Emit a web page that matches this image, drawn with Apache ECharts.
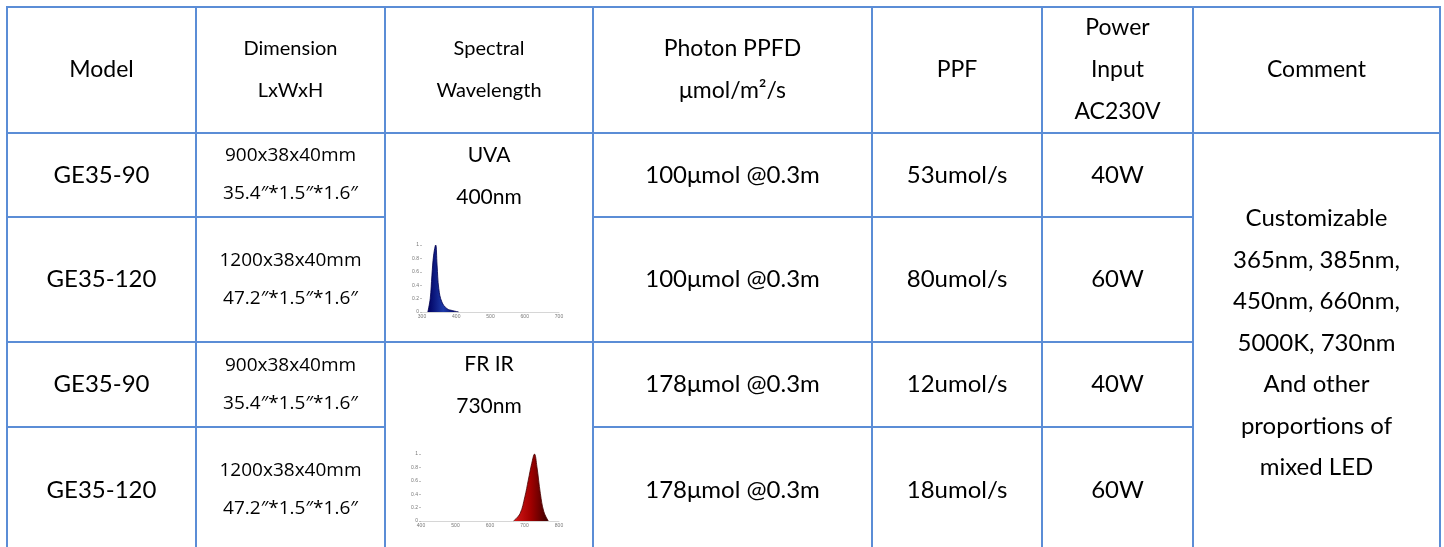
<!DOCTYPE html>
<html>
<head>
<meta charset="utf-8">
<script src="https://cdn.jsdelivr.net/npm/echarts@6/dist/echarts.min.js"></script>
<style>
html,body{margin:0;padding:0;background:#fff;}
#chart{width:1444px;height:547px;}
</style>
</head>
<body>
<div id="chart"></div>
<script>
// ---------- data ----------
const headers = ['Model', 'Dimension\nLxWxH', 'Spectral\nWavelength', 'Photon PPFD\n\u03bcmol/m\u00b2/s', 'PPF', 'Power\nInput\nAC230V', 'Comment'];
const models = ['GE35-90', 'GE35-120', 'GE35-90', 'GE35-120'];
const dimensions = [
  '900x38x40mm\n35.4\u2033*1.5\u2033*1.6\u2033',
  '1200x38x40mm\n47.2\u2033*1.5\u2033*1.6\u2033',
  '900x38x40mm\n35.4\u2033*1.5\u2033*1.6\u2033',
  '1200x38x40mm\n47.2\u2033*1.5\u2033*1.6\u2033'
];
const spectra = ['UVA\n400nm', 'FR IR\n730nm'];
const ppfd = ['100\u03bcmol @0.3m', '100\u03bcmol @0.3m', '178\u03bcmol @0.3m', '178\u03bcmol @0.3m'];
const ppf = ['53umol/s', '80umol/s', '12umol/s', '18umol/s'];
const power = ['40W', '60W', '40W', '60W'];
const comment = 'Customizable\n365nm, 385nm,\n450nm, 660nm,\n5000K, 730nm\nAnd other\nproportions of\nmixed LED';

// spectrum curves read from the thumbnails (wavelength nm, relative intensity)
const uvaWavelength = [317, 324, 329, 334, 340, 344, 349, 358, 373, 390, 407];
const uvaIntensity  = [0, 0.2, 0.55, 0.85, 1, 0.7, 0.35, 0.15, 0.05, 0.02, 0];
const frWavelength  = [668, 687, 701, 711, 721, 729, 736, 746, 756, 769];
const frIntensity   = [0, 0.11, 0.36, 0.61, 0.86, 1, 0.81, 0.41, 0.14, 0];

// ---------- layout ----------
const layout = {
  colEdges: [7, 196, 385, 593, 872, 1042, 1193, 1440],
  rowEdges: [7, 133, 217, 342, 427, 553],
  border: '#5b8dd6',
  font: 'Lato, "Open Sans", sans-serif',
  dimFont: '"Open Sans", "Noto Sans", sans-serif'
};

// cells: [c0, c1, r0, r1, text, styleKey]
const cells = [];
headers.forEach((h, i) => {
  const key = (i === 1 || i === 2) ? 'headSmall' : 'head';
  cells.push([i, i + 1, 0, 1, h, key]);
});
for (let r = 0; r < 4; r++) {
  cells.push([0, 1, r + 1, r + 2, models[r], 'data']);
  cells.push([1, 2, r + 1, r + 2, dimensions[r], 'dim']);
  cells.push([3, 4, r + 1, r + 2, ppfd[r], 'data']);
  cells.push([4, 5, r + 1, r + 2, ppf[r], 'data']);
  cells.push([5, 6, r + 1, r + 2, power[r], 'data']);
}
cells.push([2, 3, 1, 3, spectra[0], 'spec']);
cells.push([2, 3, 3, 5, spectra[1], 'spec']);
cells.push([6, 7, 1, 5, comment, 'comment']);

const styles = {
  head:      { fontSize: 23, lineHeight: 42, font: layout.font, top: false },
  headSmall: { fontSize: 20, lineHeight: 42, font: layout.font, top: false },
  data:      { fontSize: 24, lineHeight: 40, font: layout.font, top: false },
  dim:       { fontSize: 19, lineHeight: 38, font: layout.dimFont, top: false },
  spec:      { fontSize: 21, lineHeight: 42, font: layout.font, top: true },
  comment:   { fontSize: 24, lineHeight: 41.5, font: layout.font, top: false }
};

function renderCell(params, api) {
  const d = cells[params.dataIndex];
  const p0 = api.coord([layout.colEdges[d[0]], layout.rowEdges[d[2]]]);
  const p1 = api.coord([layout.colEdges[d[1]], layout.rowEdges[d[3]]]);
  const st = styles[d[5]];
  const cx = (p0[0] + p1[0]) / 2;
  const cy = st.top ? p0[1] + 1 : (p0[1] + p1[1]) / 2;
  return {
    type: 'group',
    children: [
      {
        type: 'rect',
        shape: { x: p0[0], y: p0[1], width: p1[0] - p0[0], height: p1[1] - p0[1] },
        style: { fill: 'none', stroke: layout.border, lineWidth: 2 }
      },
      {
        type: 'text',
        x: cx, y: cy,
        style: {
          text: d[4],
          fill: '#000',
          fontSize: st.fontSize,
          fontFamily: st.font,
          lineHeight: st.lineHeight,
          align: 'center',
          verticalAlign: st.top ? 'top' : 'middle'
        }
      }
    ]
  };
}

function miniAxes(gridIndex, min, max) {
  return {
    x: {
      type: 'value', gridIndex, min, max, interval: 100,
      axisLine: { show: true, lineStyle: { color: '#bbb', width: 0.6 } },
      axisTick: { show: false },
      axisLabel: { fontSize: 5, color: '#777', margin: 2 },
      splitLine: { show: false }
    },
    y: {
      type: 'value', gridIndex, min: 0, max: 1, interval: 0.2,
      axisLine: { show: false },
      axisTick: { show: true, length: 2, lineStyle: { color: '#999', width: 0.6 } },
      axisLabel: { fontSize: 5, color: '#777', margin: 3, formatter: v => (v === 0 ? '0' : (v === 1 ? '1' : v.toFixed(1))) },
      splitLine: { show: false }
    }
  };
}
const uvaAx = miniAxes(1, 300, 700);
const frAx = miniAxes(2, 400, 800);

const chart = echarts.init(document.getElementById('chart'));
chart.setOption({
  animation: false,
  backgroundColor: '#fff',
  grid: [
    { left: 0, top: 0, width: 1444, height: 547 },
    { left: 422, top: 245, width: 137, height: 67 },
    { left: 421, top: 454, width: 138, height: 67 }
  ],
  xAxis: [
    { type: 'value', gridIndex: 0, min: 0, max: 1444, show: false },
    uvaAx.x, frAx.x
  ],
  yAxis: [
    { type: 'value', gridIndex: 0, min: 0, max: 547, inverse: true, show: false },
    uvaAx.y, frAx.y
  ],
  series: [
    {
      type: 'custom',
      xAxisIndex: 0, yAxisIndex: 0,
      renderItem: renderCell,
      data: cells.map((c, i) => [layout.colEdges[c[0]], layout.rowEdges[c[2]], i]),
      z: 1
    },
    {
      type: 'line',
      xAxisIndex: 1, yAxisIndex: 1,
      data: uvaWavelength.map((w, i) => [w, uvaIntensity[i]]),
      symbol: 'none', smooth: 0.4,
      lineStyle: { color: '#000050', width: 0.8 },
      areaStyle: {
        color: new echarts.graphic.LinearGradient(0, 0, 1, 0, [
          { offset: 0, color: '#000060' },
          { offset: 0.5, color: '#1d3aa8' },
          { offset: 1, color: '#000060' }
        ]),
        opacity: 1
      },
      z: 5
    },
    {
      type: 'line',
      xAxisIndex: 2, yAxisIndex: 2,
      data: frWavelength.map((w, i) => [w, frIntensity[i]]),
      symbol: 'none', smooth: 0.4,
      lineStyle: { color: '#4a0000', width: 0.8 },
      areaStyle: {
        color: new echarts.graphic.LinearGradient(0, 0, 1, 0, [
          { offset: 0, color: '#d81818' },
          { offset: 0.5, color: '#a00000' },
          { offset: 1, color: '#3a0000' }
        ]),
        opacity: 1
      },
      z: 5
    }
  ]
});
</script>
</body>
</html>
